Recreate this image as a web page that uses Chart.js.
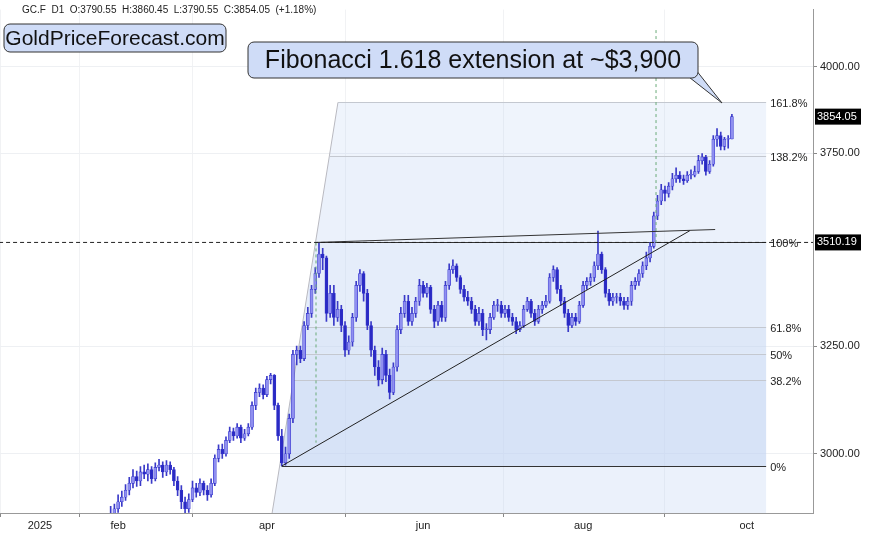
<!DOCTYPE html>
<html>
<head>
<meta charset="utf-8">
<script src="https://cdn.jsdelivr.net/npm/chart.js@4"></script>
<style>
  html, body { margin: 0; padding: 0; background: #fff; }
  #wrap { width: 875px; height: 536px; }
</style>
</head>
<body>
<div id="wrap"><canvas id="chart" width="875" height="536"></canvas></div>
<script>
// bar index 0 = 2 Jan 2025, first drawn candle = bar 19
const firstBar = 19;

const opens = [
  2860,2870,2880,2895,2905,2920,2935,2950,2940,2960,
  2955,2965,2945,2970,2975,2960,2975,2965,2940,2920,
  2895,2880,2900,2925,2915,2935,2920,2910,2935,2990,
  3010,3000,3030,3050,3040,3060,3035,3045,3060,3110,
  3140,3150,3135,3170,3180,3110,3040,2980,3000,3080,
  3230,3240,3220,3300,3330,3390,3430,3480,3470,3330,
  3380,3320,3340,3300,3240,3260,3320,3400,3430,3380,
  3300,3240,3200,3170,3230,3180,3140,3200,3290,3330,
  3360,3310,3330,3360,3400,3380,3395,3340,3310,3350,
  3320,3400,3440,3450,3420,3390,3370,3360,3340,3310,
  3330,3290,3290,3320,3350,3350,3330,3340,3320,3310,
  3290,3300,3340,3360,3330,3310,3340,3350,3360,3420,
  3440,3390,3360,3330,3300,3320,3310,3350,3400,3410,
  3420,3450,3480,3440,3380,3360,3370,3370,3360,3350,
  3360,3400,3410,3430,3450,3470,3500,3580,3620,3650,
  3640,3660,3680,3690,3680,3675,3690,3690,3700,3730,
  3740,3700,3720,3790,3800,3770,3790,3790.55
];
const highs = [
  2885,2890,2910,2918,2932,2948,2965,2962,2972,2975,
  2978,2972,2980,2988,2982,2985,2982,2970,2950,2930,
  2905,2912,2940,2935,2945,2940,2930,2945,2998,3020,
  3022,3038,3060,3058,3068,3065,3055,3068,3118,3150,
  3160,3158,3178,3185,3182,3115,3055,3015,3090,3240,
  3250,3250,3310,3345,3400,3445,3510.19,3495,3475,3400,
  3400,3360,3350,3310,3275,3330,3410,3440,3435,3390,
  3310,3250,3215,3245,3240,3195,3210,3300,3345,3375,
  3375,3345,3370,3415,3410,3405,3400,3350,3360,3360,
  3410,3455,3465,3455,3425,3400,3385,3370,3350,3345,
  3340,3305,3330,3360,3365,3360,3350,3350,3330,3320,
  3310,3350,3370,3365,3340,3350,3360,3375,3430,3450,
  3445,3400,3370,3340,3330,3330,3360,3410,3420,3430,
  3460,3540,3485,3445,3390,3380,3380,3380,3370,3370,
  3410,3420,3440,3460,3485,3510,3590,3635,3665,3660,
  3670,3695,3710,3700,3690,3700,3705,3715,3745,3750,
  3745,3730,3800,3820,3810,3795,3800,3860.45
];
const lows = [
  2850,2860,2872,2885,2898,2910,2925,2928,2930,2945,
  2940,2935,2940,2962,2948,2952,2955,2930,2908,2880,
  2865,2872,2895,2905,2908,2910,2898,2905,2930,2982,
  2990,2995,3025,3030,3035,3025,3030,3040,3055,3100,
  3130,3125,3130,3160,3100,3030,2973,2975,2990,3070,
  3205,3210,3215,3290,3320,3380,3420,3440,3310,3320,
  3300,3310,3285,3225,3230,3250,3310,3385,3360,3290,
  3225,3180,3155,3160,3165,3125,3135,3190,3280,3320,
  3300,3300,3320,3350,3370,3370,3330,3295,3300,3310,
  3310,3390,3430,3410,3380,3360,3350,3330,3300,3300,
  3275,3265,3280,3315,3335,3320,3320,3310,3300,3280,
  3285,3295,3335,3320,3300,3305,3330,3345,3355,3410,
  3380,3350,3320,3285,3295,3300,3305,3345,3390,3400,
  3410,3440,3430,3370,3350,3350,3355,3350,3340,3340,
  3350,3390,3400,3420,3440,3460,3495,3570,3610,3620,
  3630,3650,3670,3670,3665,3670,3680,3685,3695,3720,
  3690,3695,3715,3770,3760,3760,3765,3790.55
];
const closes = [
  2870,2880,2895,2905,2920,2935,2950,2940,2960,2955,
  2965,2945,2970,2975,2960,2975,2965,2940,2920,2895,
  2880,2900,2925,2915,2935,2920,2910,2935,2990,3010,
  3000,3030,3050,3040,3060,3035,3045,3060,3110,3140,
  3150,3135,3170,3180,3110,3040,2980,3000,3080,3230,
  3240,3220,3300,3330,3390,3430,3480,3470,3330,3380,
  3320,3340,3300,3240,3260,3320,3400,3430,3380,3300,
  3240,3200,3170,3230,3180,3140,3200,3290,3330,3360,
  3310,3330,3360,3400,3380,3395,3340,3310,3350,3320,
  3400,3440,3450,3420,3390,3370,3360,3340,3310,3330,
  3290,3290,3320,3350,3350,3330,3340,3320,3310,3290,
  3300,3340,3360,3330,3310,3340,3350,3360,3420,3440,
  3390,3360,3330,3300,3320,3310,3350,3400,3410,3420,
  3450,3480,3440,3380,3360,3370,3370,3360,3350,3360,
  3400,3410,3430,3450,3470,3500,3580,3620,3650,3640,
  3660,3680,3690,3680,3675,3690,3690,3700,3730,3740,
  3700,3720,3790,3800,3770,3790,3790,3854.05
];

// x axis: bar index of first trading day of each labelled month
const monthBars = [0, 21, 61, 103, 146, 190];
const monthLabels = ['2025', 'feb', 'apr', 'jun', 'aug', 'oct'];
const priceTicks = [3000, 3250, 3750, 4000];

// fibonacci retracement / extension levels
const fibNames = ['0%', '38.2%', '50%', '61.8%', '100%', '138.2%', '161.8%'];
const fibPrices = [2973, 3168, 3232, 3296, 3510.19, 3744, 3895];
const fibStartBar = 74.2;
const fibEndBar = 195.2;
// slanted left edge of the fib box [bar, price]
const fibEdge = [[62.4, 2871], [80.1, 3895]];

// drawn lines
const supportLine = [[65, 2973], [174.7, 3541]];
const topLine = [[74.2, 3510.19], [181.5, 3544]];
const greenLineA = [[74.2, 3510.19], [74.2, 3025]];
const greenLineB = [[165.6, 4110], [165.6, 3510.19]];
const lastPrice = 3854.05;
const levelPrice = 3510.19;

const wicks = [], bodies = [], bodyColors = [];
closes.forEach((c, i) => {
  const o = opens[i];
  const x = firstBar + i;
  wicks.push({ x, y: [lows[i], highs[i]] });
  let lo = Math.min(o, c), hi = Math.max(o, c);
  if (hi - lo < 2) hi = lo + 2;
  bodies.push({ x, y: [lo, hi] });
  bodyColors.push(c >= o ? '#8f8ff0' : '#2a2ac4');
});

const pts = arr => arr.map(p => ({ x: p[0], y: p[1] }));

const fibPlugin = {
  id: 'fib',
  beforeDatasetsDraw(chart) {
    const { ctx, scales: { x, y }, chartArea: a } = chart;
    const ex1 = x.getPixelForValue(fibEdge[0][0]), ey1 = y.getPixelForValue(fibEdge[0][1]);
    const ex2 = x.getPixelForValue(fibEdge[1][0]), ey2 = y.getPixelForValue(fibEdge[1][1]);
    const right = x.getPixelForValue(fibEndBar);
    const top = y.getPixelForValue(fibPrices[6]);
    const edgeX = py => ex1 + (ex2 - ex1) * (py - ey1) / (ey2 - ey1);
    ctx.save();
    ctx.beginPath();
    ctx.moveTo(ex1, a.bottom);
    ctx.lineTo(ex2, top);
    ctx.lineTo(right, top);
    ctx.lineTo(right, a.bottom);
    ctx.closePath();
    ctx.clip();
    const alphas = [0.62, 0.56, 0.5, 0.4, 0.3, 0.24];
    ctx.fillStyle = 'rgba(190,210,242,0.3)';
    ctx.fillRect(0, y.getPixelForValue(fibPrices[0]), 875, a.bottom);
    for (let k = 0; k < 6; k++) {
      const y1 = y.getPixelForValue(fibPrices[k]), y2 = y.getPixelForValue(fibPrices[k + 1]);
      ctx.fillStyle = `rgba(190,210,242,${alphas[k]})`;
      ctx.fillRect(0, y2, 875, y1 - y2);
    }
    ctx.restore();

    ctx.save();
    ctx.lineWidth = 1;
    ctx.strokeStyle = '#b9b9c0';
    ctx.beginPath();
    ctx.moveTo(ex1, a.bottom);
    ctx.lineTo(ex2, top);
    ctx.stroke();
    fibPrices.forEach((p, k) => {
      const py = Math.round(y.getPixelForValue(p)) + 0.5;
      const strong = k === 0 || k === 4;
      ctx.strokeStyle = strong ? '#333' : '#c4c8d0';
      ctx.lineWidth = strong ? 1.2 : 1;
      const sx = strong ? x.getPixelForValue(k === 0 ? 65 : fibStartBar) : Math.max(edgeX(py), 0);
      ctx.beginPath();
      ctx.moveTo(sx, py);
      ctx.lineTo(right, py);
      ctx.stroke();
      ctx.fillStyle = '#222';
      ctx.font = '11px "Liberation Sans", Arial, sans-serif';
      ctx.textBaseline = 'middle';
      ctx.fillText(fibNames[k], right + 4, py + 1);
    });
    ctx.restore();
  },
  afterDraw(chart) {
    const { ctx, scales: { y }, chartArea: a } = chart;
    ctx.save();
    ctx.font = '11px "Liberation Sans", Arial, sans-serif';
    ctx.textBaseline = 'middle';
    [lastPrice, levelPrice].forEach(p => {
      const py = y.getPixelForValue(p);
      ctx.fillStyle = '#000';
      ctx.fillRect(a.right + 2, py - 8, 46, 16);
      ctx.fillStyle = '#fff';
      ctx.fillText(p.toFixed(2), a.right + 4, py);
    });
    // header
    ctx.fillStyle = '#222';
    ctx.font = '10px "Liberation Sans", Arial, sans-serif';
    ctx.fillText('GC.F  D1  O:3790.55  H:3860.45  L:3790.55  C:3854.05  (+1.18%)', 22, 10);

    const box = (bx, by, bw, bh, txt, size) => {
      ctx.beginPath();
      ctx.roundRect(bx, by, bw, bh, 6);
      ctx.fillStyle = '#cfdcf7';
      ctx.fill();
      ctx.strokeStyle = '#333';
      ctx.lineWidth = 1;
      ctx.stroke();
      ctx.fillStyle = '#111';
      ctx.font = size + 'px "Liberation Sans", Arial, sans-serif';
      ctx.textAlign = 'center';
      ctx.fillText(txt, bx + bw / 2, by + bh / 2 + 1);
      ctx.textAlign = 'left';
    };
    box(4, 24, 222, 28, 'GoldPriceForecast.com', 21);
    // callout pointer
    ctx.beginPath();
    ctx.moveTo(680, 70);
    ctx.lineTo(722, 103);
    ctx.lineTo(696, 70);
    ctx.closePath();
    ctx.fillStyle = '#cfdcf7';
    ctx.fill();
    ctx.strokeStyle = '#333';
    ctx.stroke();
    box(248, 42, 450, 36, 'Fibonacci 1.618 extension at ~$3,900', 25);
    ctx.restore();
  }
};

const lineDs = (data, color, dash, width) => ({
  type: 'line', data: pts(data), borderColor: color, borderWidth: width || 1,
  borderDash: dash || [], pointRadius: 0, fill: false, order: 0
});

new Chart(document.getElementById('chart'), {
  type: 'bar',
  data: {
    datasets: [
      lineDs([[-11, levelPrice], [208, levelPrice]], '#222', [4, 3], 1),
      lineDs(supportLine, '#222'),
      lineDs(topLine, '#333'),
      lineDs(greenLineA, '#6bab78', [3, 3]),
      lineDs(greenLineB, '#6bab78', [3, 3]),
      { data: bodies, backgroundColor: bodyColors, borderColor: '#3333cc', borderWidth: 0.6,
        borderSkipped: false, barThickness: 3, grouped: false, order: 1 },
      { data: wicks, backgroundColor: '#3a3ac8', barThickness: 1, grouped: false, order: 2 }
    ]
  },
  options: {
    responsive: false,
    animation: false,
    devicePixelRatio: 1,
    layout: { padding: 0 },
    plugins: { legend: { display: false }, tooltip: { enabled: false } },
    scales: {
      x: {
        type: 'linear', min: -10.75, max: 207.8, offset: false,
        afterBuildTicks: s => { s.ticks = monthBars.map(v => ({ value: v })); },
        ticks: { callback: v => monthLabels[monthBars.indexOf(v)], color: '#222',
          font: { size: 11, family: 'Liberation Sans' }, maxRotation: 0, padding: 2 },
        grid: { color: '#f1f2f4', tickLength: 4, tickColor: '#888' },
        border: { color: '#999' },
        afterFit: s => { s.height = 23; }
      },
      y: {
        type: 'logarithmic', position: 'right', min: 2871, max: 4173,
        afterBuildTicks: s => { s.ticks = priceTicks.map(v => ({ value: v })); },
        ticks: { callback: v => v.toFixed(2), color: '#222',
          font: { size: 11, family: 'Liberation Sans' }, padding: 3 },
        grid: { color: '#eef0f3', tickLength: 4, tickColor: '#888' },
        border: { color: '#999' },
        afterFit: s => { s.width = 62; }
      }
    }
  },
  plugins: [fibPlugin]
});
</script>
</body>
</html>
